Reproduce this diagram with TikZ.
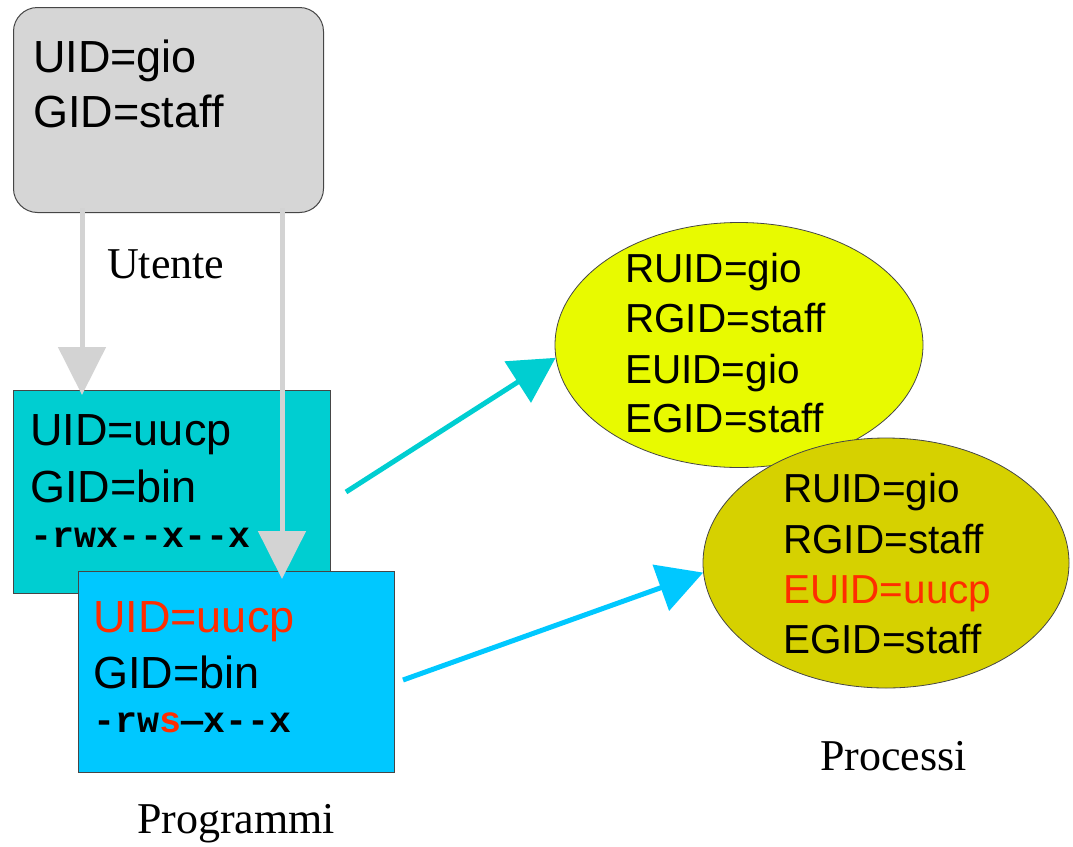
\documentclass[tikz,border=0pt]{standalone}
\usepackage{fontspec}
\setmainfont{Liberation Serif}
\newfontfamily\arialf{Liberation Sans}
\newfontfamily\courf{Liberation Mono}
\usetikzlibrary{arrows.meta,shapes.geometric}
\definecolor{boxgray}{RGB}{214,214,214}
\definecolor{arrgray}{RGB}{211,211,211}
\definecolor{mycyan}{RGB}{0,206,209}
\definecolor{myblue}{RGB}{0,200,255}
\definecolor{myyellow}{RGB}{232,250,0}
\definecolor{myolive}{RGB}{214,209,0}
\definecolor{myred}{RGB}{255,45,0}
\definecolor{edgegray}{RGB}{70,70,70}
\begin{document}
\begin{tikzpicture}[x=1pt,y=-1pt,
  boxtxt/.style={anchor=base west,inner sep=0pt,font=\arialf\fontsize{45}{55}\selectfont},
  elltxt/.style={anchor=base west,inner sep=0pt,font=\arialf\fontsize{40.5}{50}\selectfont},
  permtxt/.style={anchor=base west,inner sep=0pt,font=\courf\bfseries\fontsize{36.7}{40}\selectfont},
  lbl/.style={anchor=base west,inner sep=0pt,font=\fontsize{44}{50}\selectfont},
  rectbox/.style={draw=edgegray,line width=1pt,anchor=north west,inner sep=0pt},
  ellbox/.style={draw=edgegray,line width=0.8pt,ellipse,inner sep=0pt},
  grayarr/.style={draw=arrgray,line width=5pt,-{Triangle[length=48pt,width=47pt]}},
  cyanarr/.style={draw=mycyan,line width=5pt,-{Triangle[length=45pt,width=48pt]}},
  bluearr/.style={draw=myblue,line width=5pt,-{Triangle[length=45pt,width=48pt]}}
]
\useasboundingbox (0,0) rectangle (1073,846);

% user box
\node[rectbox,fill=boxgray,rounded corners=24pt,minimum width=310pt,minimum height=205pt] (user) at (13,7) {};
\node[boxtxt] (u1) at (33,72) {UID=gio};
\node[boxtxt] (u2) at (33,127) {GID=staff};
\node[lbl] (utente) at (107,278) {Utente};

% cyan box
\node[rectbox,fill=mycyan,minimum width=317pt,minimum height=203pt] (cbox) at (13,390) {};
\node[boxtxt] (c1) at (30,445) {UID=uucp};
\node[boxtxt] (c2) at (30,502) {GID=bin};
\node[permtxt] (c3) at (30,547) {-rwx--x--x};

% gray arrows
\draw[grayarr] ([xshift=69pt,yshift=5pt]user.south west) -- ([xshift=69pt,yshift=-5pt]cbox.north west);

% blue box
\node[rectbox,fill=myblue,minimum width=316pt,minimum height=201pt] (bbox) at (78,571) {};
\node[boxtxt,text=myred] (b1) at (93,632) {UID=uucp};
\node[boxtxt] (b2) at (93,688) {GID=bin};
\node[permtxt] (b3) at (93,732) {-rw\textcolor{myred}{s}—x--x};
\node[lbl] (programmi) at (137,833) {Programmi};

\draw[grayarr] ([xshift=269pt,yshift=5pt]user.south west) -- ([xshift=204pt,yshift=-8pt]bbox.north west);

% ellipses
\node[ellbox,fill=myyellow,minimum width=368pt,minimum height=245pt] (yell) at (739,345) {};
\node[elltxt] (y1) at (625,282) {RUID=gio};
\node[elltxt] (y2) at (625,332) {RGID=staff};
\node[elltxt] (y3) at (625,383) {EUID=gio};
\node[elltxt] (y4) at (625,432) {EGID=staff};

\node[ellbox,fill=myolive,minimum width=366pt,minimum height=250pt] (oell) at (886,563) {};
\node[elltxt] (o1) at (783,502) {RUID=gio};
\node[elltxt] (o2) at (783,553) {RGID=staff};
\node[elltxt,text=myred] (o3) at (783,603) {EUID=uucp};
\node[elltxt] (o4) at (783,653) {EGID=staff};
\node[lbl] (processi) at (820,770) {Processi};

% process arrows
\draw[cyanarr] ([xshift=15pt]cbox.east) -- (yell.184);
\draw[bluearr] ([shift={(8pt,-8pt)}]bbox.east) -- (oell.183);
\end{tikzpicture}
\end{document}
